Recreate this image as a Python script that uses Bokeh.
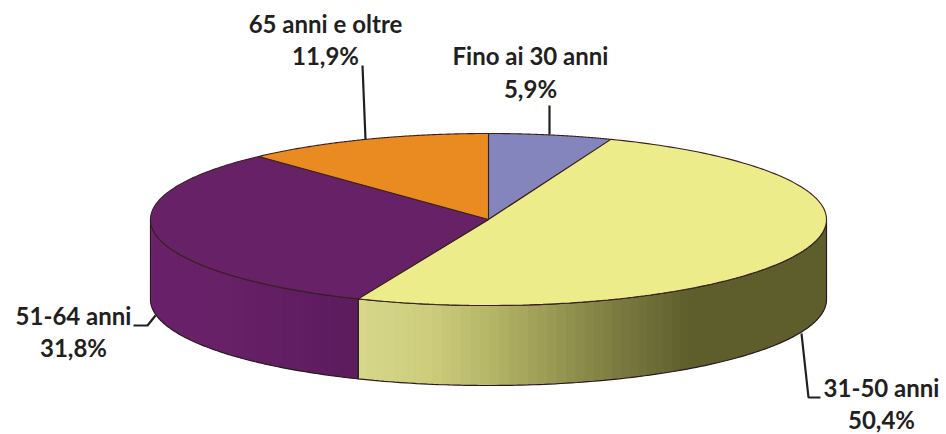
import numpy as np
from bokeh.plotting import figure
from bokeh.models import Range1d, ColumnDataSource
from bokeh.core.properties import value
from bokeh.embed import file_html
from bokeh.resources import INLINE

categories = ["Fino ai 30 anni", "31-50 anni", "51-64 anni", "65 anni e oltre"]
shares = [5.9, 50.4, 31.8, 11.9]
share_labels = ["5,9%", "50,4%", "31,8%", "11,9%"]
top_colors = ["#8585BD", "#ECEC8A", "#672267", "#EA8B22"]

# page-pixel frame of the reference
W, H = 946, 434
CX, CY, RX, RY, DEPTH = 488, 219, 338, 86, 80
EDGE = "#2A1A20"
TEXT = "#231F20"

# shading of the visible side: x position -> colour
side_stops_x = {1: [358, 430, 500, 560, 620, 690, 830], 2: [150, 230, 358]}
side_stops_c = {
    1: [(216, 216, 140), (205, 205, 125), (178, 178, 100), (150, 150, 82), (122, 122, 64), (94, 94, 45), (94, 94, 45)],
    2: [(106, 34, 106), (103, 33, 103), (92, 28, 94)],
}

label_x = [530, 881, 73, 325]
label_y = [(55, 88), (387, 419), (315, 347), (23, 55)]
leaders = [
    ([549, 549], [105, 134]),
    ([801, 808, 820], [333, 397, 397]),
    ([133, 147, 155], [325, 325, 315]),
    ([362, 362, 365], [65, 65, 139]),
]

p = figure(width=W, height=H, output_backend="svg", toolbar_location=None,
           x_range=Range1d(0, W), y_range=Range1d(H, 0),
           min_border=0, outline_line_color=None, background_fill_color="white")
p.axis.visible = False
p.grid.visible = False


def px(t):
    return CX + RX * np.sin(t)


def py(t):
    return CY - RY * np.cos(t)


cum = np.cumsum([0] + shares)
total = cum[-1]
angles = 2 * np.pi * cum / total

# side walls
for i in (1, 2):
    a0 = max(angles[i], np.pi / 2)
    a1 = min(angles[i + 1], 3 * np.pi / 2)
    steps = np.linspace(a0, a1, 70)
    xs, ys, cols = [], [], []
    stops = np.array(side_stops_c[i], float)
    for j in range(len(steps) - 1):
        s0 = steps[j]
        s1 = steps[min(j + 2, len(steps) - 1)]  # overlap the next band to hide seams
        seg = np.linspace(s0, s1, 6)
        sx = px(seg)
        sy = py(seg)
        xs.append(list(sx) + list(sx[::-1]))
        ys.append(list(sy) + list((sy + DEPTH)[::-1]))
        mid = (px(steps[j]) + px(steps[j + 1])) / 2
        c = [int(np.interp(mid, side_stops_x[i], stops[:, k])) for k in range(3)]
        cols.append("#%02x%02x%02x" % tuple(c))
    p.patches(xs, ys, fill_color=cols, line_color=None)

    seg = np.linspace(a0, a1, 120)
    ox = list(px(seg)) + list(px(seg)[::-1])
    oy = list(py(seg)) + list((py(seg) + DEPTH)[::-1])
    p.patch(ox, oy, fill_color=None, line_color=EDGE, line_width=1.2)

# top faces
for i, col in enumerate(top_colors):
    seg = np.linspace(angles[i], angles[i + 1], 160)
    xs = [CX] + list(px(seg))
    ys = [CY] + list(py(seg))
    p.patch(xs, ys, fill_color=col, line_color="#3A2020", line_width=1.1)

# leader lines
for lx, ly in leaders:
    p.line(lx, ly, line_color=TEXT, line_width=2.2)

# labels
src = ColumnDataSource(dict(
    x=label_x + label_x,
    y=[a for a, _ in label_y] + [b for _, b in label_y],
    t=categories + share_labels,
))
p.text("x", "y", "t", source=src, text_align="center", text_baseline="middle",
       text_font=value("Lato"), text_font_style="bold", text_font_size="24px",
       text_color=TEXT)

open("out.html", "w").write(file_html(p, INLINE))
